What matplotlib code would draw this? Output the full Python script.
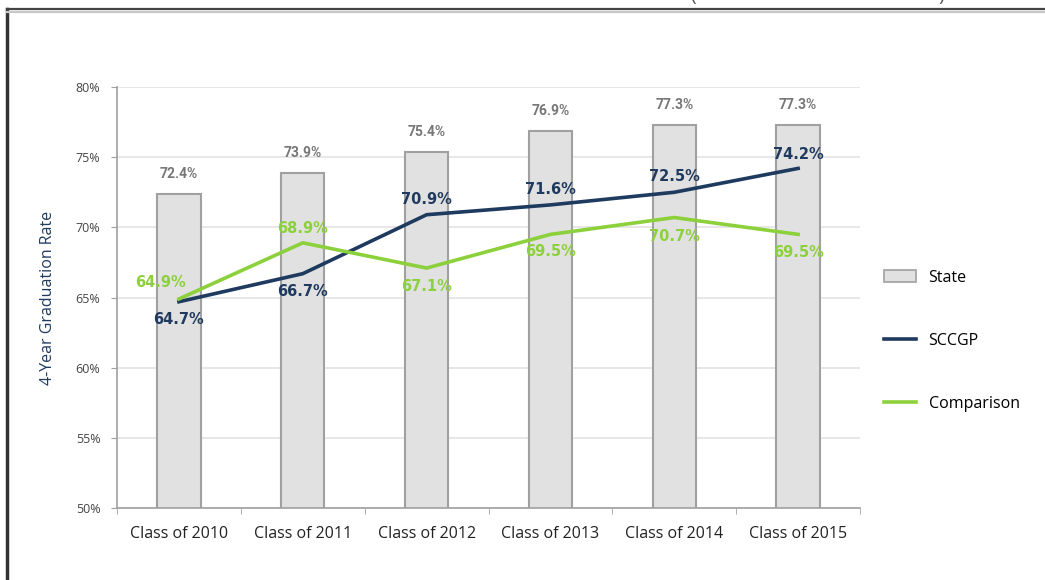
import matplotlib
matplotlib.use("Agg")
import matplotlib.pyplot as plt
from matplotlib.lines import Line2D
from matplotlib.patches import Patch
from matplotlib import font_manager
import numpy as np

categories = ["Class of 2010", "Class of 2011", "Class of 2012", "Class of 2013", "Class of 2014", "Class of 2015"]
state = [72.4, 73.9, 75.4, 76.9, 77.3, 77.3]
sccgp = [64.7, 66.7, 70.9, 71.6, 72.5, 74.2]
comparison = [64.9, 68.9, 67.1, 69.5, 70.7, 69.5]
yticks = [50, 55, 60, 65, 70, 75, 80]

plt.rcParams['font.family'] = ['Open Sans', 'DejaVu Sans']
plt.rcParams['font.stretch'] = 'normal'

names = {f.name for f in font_manager.fontManager.ttflist}
narrow = 'Liberation Sans Narrow' if 'Liberation Sans Narrow' in names else 'Roboto'

navy = "#1f3a5f"
green = "#8cd03c"

fig = plt.figure(figsize=(10.45, 5.8), dpi=100)
ax = fig.add_axes([0.112, 0.124, 0.711, 0.726])
x = np.arange(len(categories))

ax.bar(x, state, width=0.35, bottom=0, color="#e1e1e1", edgecolor="#a0a0a0", linewidth=1.5, zorder=2, label="State")
ax.plot(x, sccgp, color=navy, linewidth=2.6, zorder=3, label="SCCGP")
ax.plot(x, comparison, color=green, linewidth=2.6, zorder=3, label="Comparison")

ax.set_ylim(50, 80)
ax.set_xlim(-0.5, 5.5)
ax.set_yticks(yticks)
ax.set_yticklabels([f"{v}%" for v in yticks], fontsize=9, color="#444444")
ax.set_xticks(x)
ax.set_xticklabels(categories, fontsize=11.5, color="#222222")
ax.set_xticks(np.arange(-0.5, 6.0, 1.0), minor=True)
ax.tick_params(axis='x', which='major', length=0, pad=13)
ax.tick_params(axis='x', which='minor', length=4, color="#a0a0a0")
ax.tick_params(axis='y', length=4, color="#a0a0a0", pad=8)
ax.yaxis.grid(True, color="#e3e3e3", linewidth=1.2, zorder=0)
ax.set_axisbelow(True)
for s in ["top", "right"]:
    ax.spines[s].set_visible(False)
for s in ["left", "bottom"]:
    ax.spines[s].set_color("#a0a0a0")
    ax.spines[s].set_linewidth(1.2)

ax.set_ylabel("4-Year Graduation Rate", fontsize=11.5, color=navy, labelpad=14)

# bar labels
for xi, v in zip(x, state):
    ax.annotate(f"{v}%", (xi, v), xytext=(0, 14), textcoords="offset points",
                ha="center", va="center", fontsize=10, color="#777777", fontweight="bold",
                family=[narrow, 'DejaVu Sans'])

lbl_font = ['DejaVu Sans']

# SCCGP labels
sccgp_off = [(0, -13), (0, -13), (0, 11), (0, 11), (0, 11), (0, 10)]
for xi, v, off in zip(x, sccgp, sccgp_off):
    ax.annotate(f"{v}%", (xi, v), xytext=off, textcoords="offset points",
                ha="center", va="center", fontsize=10.5, color=navy, fontweight="bold",
                family=lbl_font)

comp_off = [(-13, 12), (0, 10), (0, -13), (0, -12), (0, -14), (0, -13)]
for xi, v, off in zip(x, comparison, comp_off):
    ax.annotate(f"{v}%", (xi, v), xytext=off, textcoords="offset points",
                ha="center", va="center", fontsize=10.5, color=green, fontweight="bold",
                family=lbl_font)

handles = [Patch(facecolor="#e1e1e1", edgecolor="#a0a0a0", linewidth=1.2),
           Line2D([0], [0], color=navy, linewidth=2.6),
           Line2D([0], [0], color=green, linewidth=2.6)]
fig.legend(handles, ["State", "SCCGP", "Comparison"], loc="upper left",
           bbox_to_anchor=(0.832, 0.56), frameon=False, fontsize=11.5,
           labelspacing=2.95, handlelength=2.0, handleheight=0.8, handletextpad=0.8)

# frame
fig.add_artist(Line2D([7 / 1045, 7 / 1045], [0, 1 - 9 / 580], transform=fig.transFigure, color="#333333", linewidth=2.5))
fig.add_artist(Line2D([7 / 1045, 1], [1 - 9 / 580, 1 - 9 / 580], transform=fig.transFigure, color="#444444", linewidth=1.6))
fig.add_artist(Line2D([7 / 1045, 1], [1 - 12 / 580, 1 - 12 / 580], transform=fig.transFigure, color="#c8c8c8", linewidth=1.6))
fig.text(690 / 1045, 1 - 5 / 580, "(", fontsize=14, color="#555555", ha="left", va="bottom")
fig.text(938 / 1045, 1 - 5 / 580, ")", fontsize=14, color="#555555", ha="left", va="bottom")

fig.savefig("out.png", dpi=100)
